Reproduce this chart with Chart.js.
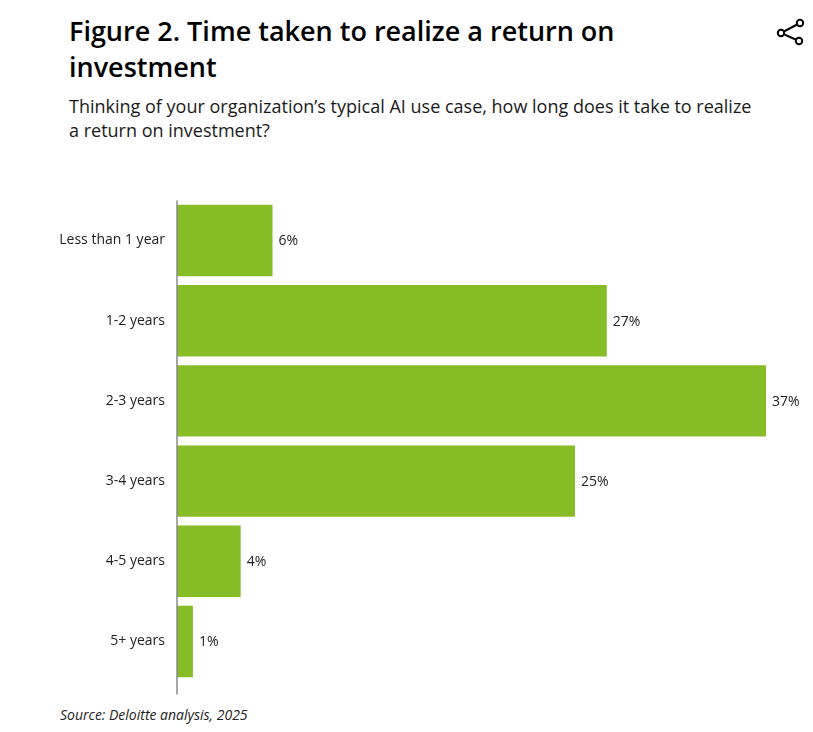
<!DOCTYPE html>
<html>
<head>
<meta charset="utf-8">
<script src="https://cdn.jsdelivr.net/npm/chart.js@4"></script>
<style>
    body { margin: 0; background: #fff; font-family: "Open Sans", sans-serif; color: #000; }
    #page { position: relative; width: 813px; height: 732px; overflow: hidden; }
    h1 {
        position: absolute; left: 69px; top: 13px; margin: 0; width: 720px;
        font-size: 27px; line-height: 36px; font-weight: 600;
        font-family: "Open Sans", sans-serif; color: #000;
    }
    .sub {
        position: absolute; left: 69px; top: 94px; margin: 0; width: 740px;
        font-size: 18px; line-height: 24px; color: #1a1a1a;
    }
    .src {
        position: absolute; left: 60px; top: 705px; font-size: 14px; font-style: italic; color: #222;
    }
    #share { position: absolute; left: 774px; top: 18px; }
    #wrap { position: absolute; left: 0; top: 180px; width: 813px; height: 522px; }
</style>
</head>
<body>
<div id="page">
    <h1>Figure 2. Time taken to realize a return on<br>investment</h1>
    <p class="sub">Thinking of your organization’s typical AI use case, how long does it take to realize<br>a return on investment?</p>
    <svg id="share" width="34" height="30" viewBox="0 0 34 30">
        <line x1="7" y1="15" x2="26" y2="5" stroke="#000" stroke-width="2"/>
        <line x1="7" y1="15" x2="25" y2="23" stroke="#000" stroke-width="2"/>
        <circle cx="7" cy="15" r="3.2" fill="#fff" stroke="#000" stroke-width="2"/>
        <circle cx="26" cy="5" r="3.2" fill="#fff" stroke="#000" stroke-width="2"/>
        <circle cx="25" cy="23" r="3.2" fill="#fff" stroke="#000" stroke-width="2"/>
    </svg>
    <div id="wrap"><canvas id="roiChart"></canvas></div>
    <div class="src">Source: Deloitte analysis, 2025</div>
</div>
<script>
const categories = ['Less than 1 year', '1-2 years', '2-3 years', '3-4 years', '4-5 years', '5+ years'];
const shares = [6, 27, 37, 25, 4, 1];

// write the value next to the end of each bar
const valueLabels = {
    id: 'valueLabels',
    afterDatasetsDraw(chart) {
        const ctx = chart.ctx;
        const meta = chart.getDatasetMeta(0);
        ctx.save();
        ctx.font = '14px "Open Sans"';
        ctx.fillStyle = '#222';
        ctx.textAlign = 'left';
        ctx.textBaseline = 'middle';
        meta.data.forEach((bar, i) => {
            ctx.fillText(shares[i] + '%', bar.x + 6, bar.y + 1);
        });
        ctx.restore();
    }
};

// the axis line runs a little past the last bar
const axisLine = {
    id: 'axisLine',
    afterDraw(chart) {
        const ctx = chart.ctx;
        const x = chart.scales.x.getPixelForValue(0);
        ctx.save();
        ctx.strokeStyle = '#8a8a8a';
        ctx.lineWidth = 1.5;
        ctx.beginPath();
        ctx.moveTo(x, chart.chartArea.top);
        ctx.lineTo(x, chart.chartArea.bottom + 13);
        ctx.stroke();
        ctx.restore();
    }
};

const ctx = document.getElementById('roiChart').getContext('2d');
new Chart(ctx, {
    type: 'bar',
    data: {
        labels: categories,
        datasets: [{
            data: shares,
            backgroundColor: '#86BC25',
            barPercentage: 0.89,
            categoryPercentage: 1
        }]
    },
    options: {
        indexAxis: 'y',
        responsive: true,
        maintainAspectRatio: false,
        animation: false,
        layout: { padding: { top: 7, right: 47, bottom: 15, left: 0 } },
        scales: {
            x: {
                min: 0,
                max: 37,
                display: false,
                grid: { display: false }
            },
            y: {
                grid: { display: false, drawTicks: false },
                border: { display: false },
                ticks: {
                    color: '#222',
                    padding: 12,
                    font: { family: 'Open Sans', size: 14 }
                },
                afterFit(scale) { scale.width = 177; }
            }
        },
        plugins: {
            legend: { display: false },
            tooltip: { enabled: false }
        }
    },
    plugins: [valueLabels, axisLine]
});
</script>
</body>
</html>
